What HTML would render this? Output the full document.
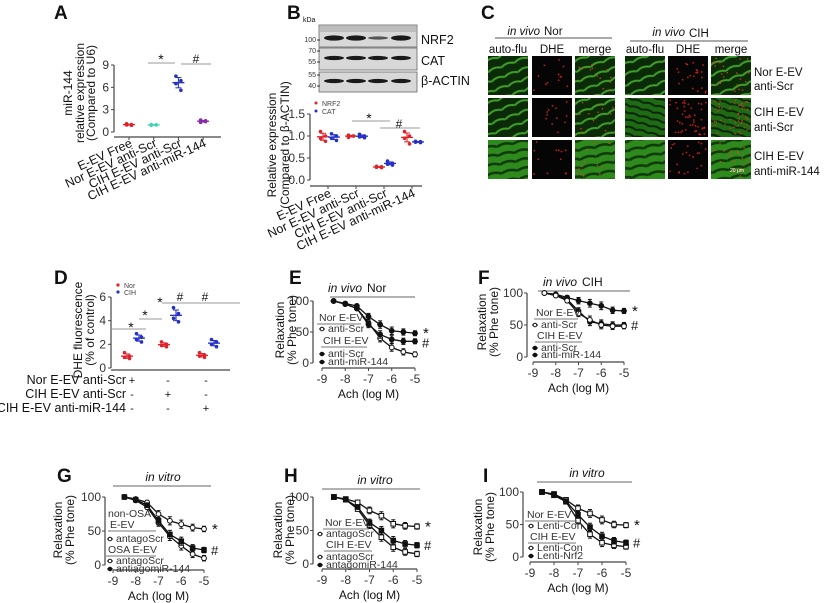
<!DOCTYPE html>
<html><head><meta charset="utf-8"><style>
html,body{margin:0;padding:0;background:#fff}
svg{display:block;font-family:"Liberation Sans",Arial,sans-serif}
</style></head><body>
<svg id="fig" width="824" height="603" viewBox="0 0 824 603" xmlns="http://www.w3.org/2000/svg">
<defs>
<pattern id="grn1" width="14" height="10" patternUnits="userSpaceOnUse" patternTransform="rotate(-20)"><rect width="14" height="10" fill="#0b2a08"/><path d="M0 5 Q7 1 14 5" stroke="#3f9d2a" stroke-width="2" fill="none"/></pattern>
<pattern id="grn2" width="12" height="7" patternUnits="userSpaceOnUse" patternTransform="rotate(15)"><rect width="12" height="7" fill="#1f6a14"/><path d="M0 3 Q6 0 12 3" stroke="#0a2606" stroke-width="2" fill="none"/></pattern>
<pattern id="grn3" width="16" height="9" patternUnits="userSpaceOnUse" patternTransform="rotate(-10)"><rect width="16" height="9" fill="#2f8a1e"/><path d="M0 6 Q8 2 16 6" stroke="#0f3a0a" stroke-width="2.5" fill="none"/></pattern>
</defs>
<g id="root"></g>
</svg>
<script>
// ---------- data ----------
const aCats = ["E-EV Free","Nor E-EV anti-Scr","CIH E-EV anti-Scr","CIH E-EV anti-miR-144"];
const aVals = [[1.1,1.0,0.95,0.9],[1.0,0.95,0.9,0.95],[7.5,6.9,6.5,5.6],[1.6,1.4,1.3,1.5]];
const aTicks = [0,3,6,9];
const bCats = ["E-EV Free","Nor E-EV anti-Scr","CIH E-EV anti-Scr","CIH E-EV anti-miR-144"];
const bNrf2 = [[1.1,1.0,0.95,0.88],[1.02,1.0,0.97,1.0],[0.31,0.3,0.29,0.28],[1.1,1.0,0.95,0.82]];
const bCat = [[1.05,1.0,0.95,0.9],[1.04,1.0,0.98,0.96],[0.43,0.38,0.36,0.34],[0.88,0.87,0.86,0.85]];
const bTicks = [0,0.5,1.0,1.5];
const dNor = [[1.3,1.0,0.9,0.8],[2.2,2.0,1.9,1.8],[1.3,1.1,1.0,0.9]];
const dCih = [[2.9,2.6,2.4,2.2],[5.1,4.6,4.2,3.9],[2.4,2.2,2.0,1.8]];
const dTicks = [0,2,4,6];
const logX = [-8.5,-8,-7.5,-7,-6.5,-6,-5.5,-5];
const xTicks = [-9,-8,-7,-6,-5];
const yTicks = [0,50,100];
const eOpen = [100,95,88,65,40,25,18,14];
const eFill = [100,96,92,75,62,52,50,48];
const eMir = [100,95,88,62,46,38,35,35];
const fOpen = [100,98,93,88,84,80,73,72];
const fFill = [100,97,90,72,55,52,50,50];
const fMir = [100,96,88,68,58,50,48,48];
const gTop = [100,97,92,75,65,60,55,53];
const gMid = [100,96,88,65,45,35,25,22];
const gLow = [100,95,85,62,42,28,16,10];
const hTop = [100,97,92,80,72,60,57,56];
const hMid = [100,96,85,62,50,35,30,28];
const hLow = [100,96,82,58,40,25,18,15];
const iTop = [100,97,88,75,67,57,50,49];
const iMid = [100,96,86,65,46,32,25,22];
const iLow = [100,95,85,56,35,22,18,16];
const errs = [0,2,3,5,6,6,5,4];

const NS="http://www.w3.org/2000/svg";
const root=document.getElementById('root');
function el(tag,attrs,parent,txt){const e=document.createElementNS(NS,tag);for(const k in attrs)e.setAttribute(k,attrs[k]);if(txt!==undefined)e.textContent=txt;(parent||root).appendChild(e);return e;}
function grp(name){const g=el('g',{});


return g;}
function txt(g,x,y,s,size,opts){opts=opts||{};const t=el('text',{x:x,y:y,'font-size':size,fill:opts.fill||'#111','text-anchor':opts.anchor||'start','font-weight':opts.bold?'bold':'normal','font-style':opts.italic?'italic':'normal'},g,s);
if(opts.rot!==undefined)t.setAttribute('transform','rotate('+opts.rot+' '+x+' '+y+')');


return t;}
function line(g,x1,y1,x2,y2,c,w){return el('line',{x1:x1,y1:y1,x2:x2,y2:y2,stroke:c||'#222','stroke-width':w||1},g);}
function mean(a){return a.reduce((s,v)=>s+v,0)/a.length;}

// ---------- panel letters ----------
const letters=[["A",54,19],["B",287,19],["C",481,19],["D",54,284],["E",289,284],["F",478,284],["G",57,482],["H",284,482],["I",483,482]];
const lg=grp('panel-letters');
letters.forEach(l=>{txt(lg,l[1],l[2],l[0],19,{bold:true,name:'panel-letter-'+l[0].toLowerCase()});});

// ---------- scatter helper ----------
function scatterAxis(g,ax,y0,y1,vmax,ticks,xEnd,fmt){
  const sy=v=>y0-(v/vmax)*(y0-y1);
  line(g,ax,y1,ax,y0,'#444',1.2);
  ticks.forEach(t=>{line(g,ax-3,sy(t),ax,sy(t),'#444');txt(g,ax-5,sy(t)+4,fmt?fmt(t):String(t),12,{anchor:'end',fill:'#333',name:'y-tick'});});
  return sy;
}
function dotGroup(g,cx,vals,sy,color){
  vals.forEach((v,i)=>{const c=el('circle',{cx:cx+(i%2?2.5:-2.5),cy:sy(v),r:1.8,fill:color},g);
  
  });
  const m=mean(vals),sd=Math.sqrt(vals.reduce((s,v)=>s+(v-m)*(v-m),0)/vals.length);
  line(g,cx-6,sy(m),cx+6,sy(m),color,1.3);
  line(g,cx,sy(m+sd),cx,sy(m-sd),color,1.1);
  line(g,cx-3,sy(m+sd),cx+3,sy(m+sd),color,1);
  line(g,cx-3,sy(m-sd),cx+3,sy(m-sd),color,1);
}

// ---------- Panel A ----------
(function(){
  const g=grp('panel-a-mir144-chart');
  const sy=scatterAxis(g,114,132,65,9,aTicks,221);
  line(g,114,137,221,137,'#444',1.2);
  const cx=i=>129+i*24.7;
  const cols=['#e0222a','#3fd6b0','#2430b8','#8a2aa8'];
  aCats.forEach((c,i)=>{line(g,cx(i),137,cx(i),140,'#444');dotGroup(g,cx(i),aVals[i],sy,cols[i]);
    txt(g,cx(i)+4,146,c,12.5,{anchor:'end',rot:-25,name:'x-category-label'});});
  txt(g,72,93,'miR-144',12,{anchor:'middle',rot:-90,name:'y-axis-title'});
  txt(g,84,93,'relative expression',12,{anchor:'middle',rot:-90,name:'y-axis-title'});
  txt(g,95,93,'(Compared to U6)',12,{anchor:'middle',rot:-90,name:'y-axis-title'});
  line(g,148,63,175,63,'#999');txt(g,161,64,'*',14,{anchor:'middle',name:'sig-star'});
  line(g,181,64,211,64,'#999');txt(g,196,63,'#',12,{anchor:'middle',name:'sig-hash'});
})();

// ---------- Panel B blots ----------
(function(){
  const g=grp('panel-b-western-blot');
  txt(g,303,22,'kDa',7,{name:'kda-label'});
  const boxes=[[25,47],[48,70],[72,92]];
  boxes.forEach((b,bi)=>{const r=el('rect',{x:319,y:b[0],width:98,height:b[1]-b[0],fill:'#d8d8d8',stroke:'#666','stroke-width':0.8},g);
    
    });
  const lanes=[334,356,378,401];
  const bandY=[38,58,81];
  const thick=[[4,4,2,4],[3,3,3,3],[3,3,3,3]];
  bandY.forEach((y,bi)=>lanes.forEach((x,li)=>{el('ellipse',{cx:x,cy:y,rx:10,ry:thick[bi][li]/2+0.6,fill:bi==0&&li==2?'#555':'#1a1a1a'},g);}));
  el('rect',{x:320,y:26,width:96,height:6,fill:'#bdbdbd'},g);
  [['100',40],['70',51],['55',62],['55',75],['40',86]].forEach(m=>{txt(g,316,m[1]+2,m[0],7,{anchor:'end',fill:'#333',name:'mw-marker'});line(g,317,m[1],320,m[1],'#333');});
  txt(g,421,44,'NRF2',12.5,{name:'blot-label-nrf2'});
  txt(g,421,65,'CAT',12.5,{name:'blot-label-cat'});
  txt(g,421,85,'β-ACTIN',12.5,{name:'blot-label-actin'});
})();

// ---------- Panel B scatter ----------
(function(){
  const g=grp('panel-b-relative-expression-chart');
  const sy=scatterAxis(g,310,180,114,1.5,bTicks,422,t=>t.toFixed(1));
  line(g,310,186,422,186,'#444',1.2);
  const cx=i=>328+i*28;
  bCats.forEach((c,i)=>{line(g,cx(i),186,cx(i),189,'#444');
    dotGroup(g,cx(i)-5,bNrf2[i],sy,'#e0222a');dotGroup(g,cx(i)+6,bCat[i],sy,'#2430c8');
    txt(g,cx(i)+4,196,c,12.5,{anchor:'end',rot:-25,name:'x-category-label'});});
  el('circle',{cx:316,cy:103,r:1.5,fill:'#e0222a'},g);txt(g,322,106,'NRF2',7,{fill:'#444',name:'legend-entry'});
  el('circle',{cx:316,cy:111,r:1.5,fill:'#2430c8'},g);txt(g,322,114,'CAT',7,{fill:'#444',name:'legend-entry'});
  txt(g,276,145,'Relative expression',12,{anchor:'middle',rot:-90,name:'y-axis-title'});
  txt(g,289,145,'(Compared to β-ACTIN)',12,{anchor:'middle',rot:-90,name:'y-axis-title'});
  line(g,352,121,390,121,'#999');txt(g,369,123,'*',14,{anchor:'middle',name:'sig-star'});
  line(g,380,128,420,128,'#999');txt(g,399,128,'#',12,{anchor:'middle',name:'sig-hash'});
})();

// ---------- Panel C microscopy ----------
(function(){
  const g=grp('panel-c-microscopy');
  txt(g,540,35,'in vivo',11.5,{anchor:'end',italic:true,name:'group-title'});txt(g,544,35,'Nor',11.5,{name:'group-title'});
  line(g,495,38,612,38,'#555');
  txt(g,685,36,'in vivo',11.5,{anchor:'end',italic:true,name:'group-title'});txt(g,689,37,'CIH',11.5,{name:'group-title'});
  line(g,630,41,748,41,'#555');
  const hdr=['auto-flu','DHE','merge'];
  const colX=[[488,532,575],[625,668,711]];
  colX.forEach((cs,gi)=>cs.forEach((x,ci)=>txt(g,x+20,53,hdr[ci],11.5,{anchor:'middle',name:'column-header'})));
  const rowY=[56,98,140];
  let seed=7;const rnd=()=>{seed=(seed*16807)%2147483647;return seed/2147483647;};
  const grn=[['grn1','grn1','grn3'],['grn1','grn2','grn3']];
  colX.forEach((cs,gi)=>rowY.forEach((y,ri)=>cs.forEach((x,ci)=>{
    const w=40,h=39;
    const fill=ci==1?'#050505':'url(#'+(gi==0?grn[0][ri]:grn[1][ri])+')';
    const r=el('rect',{x:x,y:y,width:w,height:h,fill:fill},g);
    
    
    if(ci>0){const n=(gi==1&&ri==1)?45:(gi==1?22:12);
      for(let k=0;k<n;k++)el('circle',{cx:x+2+rnd()*36,cy:y+2+rnd()*35,r:ci==1?0.9:0.8,fill:ci==1?'#d62020':'#e04020',opacity:0.9},g);}
  })));
  const rl=[['Nor E-EV','anti-Scr',76,90],['CIH E-EV','anti-Scr',116,131],['CIH E-EV','anti-miR-144',160,175]];
  rl.forEach(r=>{txt(g,754,r[2],r[0],11.5,{name:'row-label'});txt(g,754,r[3],r[1],11.5,{name:'row-label'});});
  txt(g,730,172,'20 μm',5,{fill:'#fff',name:'scale-bar-label'});
})();

// ---------- Panel D ----------
(function(){
  const g=grp('panel-d-dhe-fluorescence-chart');
  const sy=scatterAxis(g,111,368,297,6,dTicks,240);
  line(g,111,370,230,370,'#444',1.2);
  const gx=[133,170,208];
  gx.forEach((x,i)=>{dotGroup(g,x-6,dNor[i],sy,'#e0222a');dotGroup(g,x+6,dCih[i],sy,'#2430c8');});
  el('circle',{cx:118,cy:285,r:1.6,fill:'#e0222a'},g);txt(g,124,288,'Nor',7,{fill:'#444',name:'legend-entry'});
  el('circle',{cx:118,cy:292,r:1.6,fill:'#2430c8'},g);txt(g,124,295,'CIH',7,{fill:'#444',name:'legend-entry'});
  txt(g,82,330,'DHE fluorescence',12,{anchor:'middle',rot:-90,name:'y-axis-title'});
  txt(g,94,330,'(% of control)',12,{anchor:'middle',rot:-90,name:'y-axis-title'});
  line(g,110,329,146,329,'#999');txt(g,131,332,'*',14,{anchor:'middle',name:'sig-star'});
  line(g,139,319,162,319,'#999');txt(g,145,320,'*',14,{anchor:'middle',name:'sig-star'});
  line(g,162,303,190,303,'#999');txt(g,160,307,'*',14,{anchor:'middle',name:'sig-star'});
  line(g,180,303,240,303,'#999');txt(g,180,301,'#',12,{anchor:'middle',name:'sig-hash'});txt(g,205,301,'#',12,{anchor:'middle',name:'sig-hash'});
  const rows=[['Nor E-EV anti-Scr',['+','-','-'],384],['CIH E-EV anti-Scr',['-','+','-'],398],['CIH E-EV anti-miR-144',['-','-','+'],412]];
  rows.forEach(r=>{txt(g,126,r[2],r[0],12.5,{anchor:'end',name:'treatment-row-label'});r[1].forEach((s,i)=>txt(g,[132,168,206][i],r[2],s,11,{anchor:'middle',name:'treatment-sign'}));});
})();

// ---------- curve panels ----------
function curvePanel(name,c){
  const g=grp(name);
  const sx=v=>c.x0+(v+9)*(c.x1-c.x0)/4;
  const sy=v=>c.y0-(v/100)*(c.y0-c.y100);
  line(g,c.ax,c.y100,c.ax,c.y0,'#444',1.2);
  yTicks.forEach(t=>{line(g,c.ax-3,sy(t),c.ax,sy(t),'#444');txt(g,c.ax-4,sy(t)+4,String(t),12,{anchor:'end',fill:'#333',name:'y-tick'});});
  const xa=c.y0+5;
  line(g,sx(-9),xa,sx(-5),xa,'#444',1.2);
  xTicks.forEach(t=>{line(g,sx(t),xa,sx(t),xa+3,'#444');txt(g,sx(t),xa+15,String(t),12,{anchor:'middle',fill:'#333',name:'x-tick'});});
  txt(g,(sx(-9)+sx(-5))/2,xa+30,'Ach (log M)',12,{anchor:'middle',name:'x-axis-title'});
  txt(g,c.lx,c.ly,'Relaxation',12,{anchor:'middle',rot:-90,name:'y-axis-title'});
  txt(g,c.lx+12,c.ly,'(% Phe tone)',12,{anchor:'middle',rot:-90,name:'y-axis-title'});
  if(c.t2){txt(g,c.tx,c.ty,c.t1,12,{anchor:'end',italic:true,name:'panel-title'});txt(g,c.tx+5,c.ty,c.t2,12,{name:'panel-title'});}
  else txt(g,c.tx,c.ty,c.t1,12,{anchor:'middle',italic:true,name:'panel-title'});
  line(g,c.tl0,c.ty+5,c.tl1,c.ty+5,'#666');
  c.series.forEach(s=>{
    const pts=logX.map((x,i)=>sx(x)+','+sy(s.v[i])).join(' ');
    const p=el('polyline',{points:pts,fill:'none',stroke:'#111','stroke-width':1.3},g);
    
    
    logX.forEach((x,i)=>{const e=errs[i]*(s.e||1);if(e>0){line(g,sx(x),sy(s.v[i]+e),sx(x),sy(s.v[i]-e),'#111',1);line(g,sx(x)-2,sy(s.v[i]+e),sx(x)+2,sy(s.v[i]+e),'#111',1);line(g,sx(x)-2,sy(s.v[i]-e),sx(x)+2,sy(s.v[i]-e),'#111',1);}
      let m;
      if(s.m==='sq'||s.m==='sqf')m=el('rect',{x:sx(x)-2.3,y:sy(s.v[i])-2.3,width:4.6,height:4.6,fill:s.m==='sqf'?'#111':'#fff',stroke:'#111','stroke-width':1},g);
      else m=el('circle',{cx:sx(x),cy:sy(s.v[i]),r:2.4,fill:s.m==='o'?'#fff':'#111',stroke:'#111','stroke-width':1},g);
      
      });
  });
  txt(g,sx(-5)+8,sy(c.starV)+5,'*',15,{name:'sig-star'});
  txt(g,sx(-5)+7,sy(c.hashV)+5,'#',13,{name:'sig-hash'});
  c.leg.forEach(l=>{
    if(l.hdr){txt(g,l.x,l.y,l.t,10.5,{fill:'#333',name:'legend-group-label'});if(l.w)line(g,l.x-2,l.y+3,l.x+l.w,l.y+3,'#777');}
    else{line(g,l.x-3,l.y-3,l.x+3,l.y-3,'#111',1);const m=el('circle',{cx:l.x,cy:l.y-3,r:1.8,fill:l.f?'#111':'#fff',stroke:'#111'},g);
      
      
      txt(g,l.x+6,l.y,l.t,10.5,{fill:'#333',name:'legend-entry'});}
  });
}
curvePanel('panel-e-in-vivo-nor-chart',{x0:322,x1:415,ax:313,y0:363,y100:301,lx:284,ly:330,t1:'in vivo',t2:'Nor',tx:362,ty:292,tl0:330,tl1:415,starV:48,hashV:33,
  series:[{v:eOpen,m:'o'},{v:eFill,m:'f'},{v:eMir,m:'f'}],
  leg:[{hdr:1,x:319,y:321,t:'Nor E-EV',w:42},{x:322,y:332,t:'anti-Scr'},{hdr:1,x:323,y:344,t:'CIH E-EV',w:44},{x:322,y:357,t:'anti-Scr',f:1},{x:322,y:365,t:'anti-miR-144',f:1}]});
curvePanel('panel-f-in-vivo-cih-chart',{x0:533,x1:624,ax:527,y0:357,y100:293,lx:486,ly:322,t1:'in vivo',t2:'CIH',tx:577,ty:286,tl0:538,tl1:630,starV:72,hashV:50,
  series:[{v:fOpen,m:'f'},{v:fFill,m:'f'},{v:fMir,m:'o'}],
  leg:[{hdr:1,x:536,y:316,t:'Nor E-EV',w:42},{x:535,y:328,t:'anti-Scr'},{hdr:1,x:537,y:339,t:'CIH E-EV',w:45},{x:535,y:351,t:'anti-Scr',f:1},{x:535,y:358,t:'anti-miR-144',f:1}]});
curvePanel('panel-g-in-vitro-osa-chart',{x0:113,x1:204,ax:105,y0:565,y100:497,lx:62,ly:530,t1:'in vitro',tx:163,ty:481,tl0:113,tl1:211,starV:53,hashV:22,
  series:[{v:gTop,m:'o'},{v:gLow,m:'o'},{v:gMid,m:'sqf'}],
  leg:[{hdr:1,x:108,y:517,t:'non-OSA',w:0},{hdr:1,x:110,y:528,t:'E-EV',w:46},{x:110,y:542,t:'antagoScr'},{hdr:1,x:108,y:553,t:'OSA E-EV',w:48},{x:110,y:564,t:'antagoScr'},{x:110,y:572,t:'antiagomiR-144',f:1}]});
curvePanel('panel-h-in-vitro-chart',{x0:322,x1:417,ax:313,y0:564,y100:497,lx:282,ly:530,t1:'in vitro',tx:375,ty:484,tl0:322,tl1:420,starV:56,hashV:28,
  series:[{v:hTop,m:'sq'},{v:hLow,m:'sq'},{v:hMid,m:'sqf'}],
  leg:[{hdr:1,x:325,y:526,t:'Nor E-EV',w:44},{x:320,y:537,t:'antagoScr'},{hdr:1,x:326,y:548,t:'CIH E-EV',w:46},{x:320,y:560,t:'antagoScr'},{x:320,y:568,t:'antagomiR-144',f:1}]});
curvePanel('panel-i-in-vitro-nrf2-chart',{x0:530,x1:626,ax:523,y0:557,y100:492,lx:482,ly:527,t1:'in vitro',tx:587,ty:477,tl0:537,tl1:632,starV:49,hashV:22,
  series:[{v:iTop,m:'sq'},{v:iLow,m:'sq'},{v:iMid,m:'sqf'}],
  leg:[{hdr:1,x:527,y:518,t:'Nor E-EV',w:50},{x:531,y:529,t:'Lenti-Con'},{hdr:1,x:530,y:540,t:'CIH E-EV',w:46},{x:531,y:551,t:'Lenti-Con'},{x:531,y:559,t:'Lenti-Nrf2',f:1}]});
</script>
</body></html>
